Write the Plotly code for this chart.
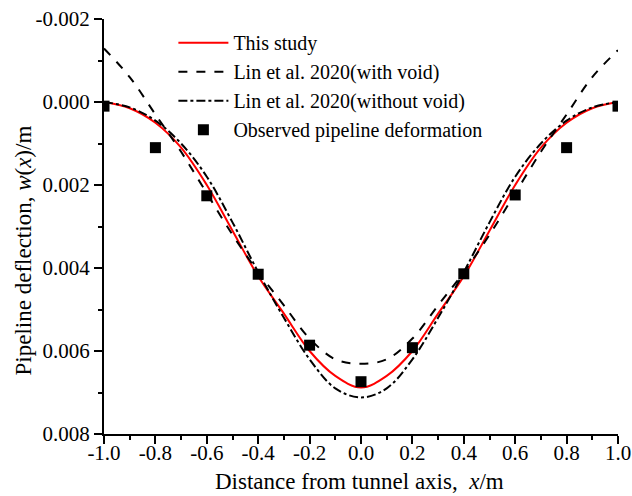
import plotly.graph_objects as go

# ---- data ----
x_curve = [-1.0, -0.9, -0.8, -0.7, -0.6, -0.5, -0.4, -0.3, -0.2, -0.1, 0.0,
           0.1, 0.2, 0.3, 0.4, 0.5, 0.6, 0.7, 0.8, 0.9, 1.0]
this_study = [0.0, 0.00015, 0.0005, 0.0011, 0.0020, 0.0031, 0.0042, 0.0051, 0.0060, 0.0066, 0.00688,
              0.0066, 0.0060, 0.0051, 0.0042, 0.0031, 0.0020, 0.0011, 0.0005, 0.00015, 0.0]
lin_with_void = [-0.00129, -0.0006, 0.0003, 0.0012, 0.0022, 0.0032, 0.0041, 0.0049, 0.0057, 0.0062, 0.00631,
                 0.0062, 0.0057, 0.0049, 0.0041, 0.0032, 0.0022, 0.0012, 0.0003, -0.0006, -0.00125]
lin_without_void = [0.0, 0.00013, 0.00045, 0.0010, 0.0018, 0.0029, 0.0041, 0.0052, 0.0062, 0.0069, 0.00712,
                    0.0069, 0.0062, 0.0052, 0.0041, 0.0029, 0.0018, 0.0010, 0.00045, 0.00013, 0.0]

x_obs = [-1.0, -0.8, -0.6, -0.4, -0.2, 0.0, 0.2, 0.4, 0.6, 0.8, 1.0]
observed = [0.0001, 0.0011, 0.00226, 0.00415, 0.00586, 0.00674, 0.00592, 0.00414, 0.00224, 0.0011, 0.0001]

x_tickvals = [-1.0, -0.8, -0.6, -0.4, -0.2, 0.0, 0.2, 0.4, 0.6, 0.8, 1.0]
x_ticktext = ["-1.0", "-0.8", "-0.6", "-0.4", "-0.2", "0.0", "0.2", "0.4", "0.6", "0.8", "1.0"]
y_tickvals = [-0.002, 0.0, 0.002, 0.004, 0.006, 0.008]
y_ticktext = ["-0.002", "0.000", "0.002", "0.004", "0.006", "0.008"]

FONT = "Liberation Serif, Times New Roman, serif"

fig = go.Figure()
fig.add_trace(go.Scatter(x=x_curve, y=this_study, mode="lines", name="This study",
                         line=dict(color="#ff0000", width=2, shape="spline")))
fig.add_trace(go.Scatter(x=x_curve, y=lin_with_void, mode="lines", name="Lin et al. 2020(with void)",
                         line=dict(color="black", width=2, dash="dash", shape="spline")))
fig.add_trace(go.Scatter(x=x_curve, y=lin_without_void, mode="lines", name="Lin et al. 2020(without void)",
                         line=dict(color="black", width=2, dash="dashdot", shape="spline")))
fig.add_trace(go.Scatter(x=x_obs, y=observed, mode="markers", name="Observed pipeline deformation",
                         marker=dict(symbol="square", color="black", size=11)))

fig.update_layout(
    template="none",
    width=632, height=496,
    margin=dict(l=104, r=14, t=19, b=62, autoexpand=False),
    paper_bgcolor="white", plot_bgcolor="white",
    font=dict(family=FONT, size=21, color="black"),
    showlegend=True,
    legend=dict(x=0.135, y=0.99, xanchor="left", yanchor="top",
                bgcolor="rgba(0,0,0,0)", font=dict(family=FONT, size=20),
                tracegroupgap=0, itemwidth=50),
    xaxis=dict(range=[-1.0, 1.0], tickmode="array", tickvals=x_tickvals, ticktext=x_ticktext,
               automargin=False, ticklabelstandoff=-9,
               showgrid=False, zeroline=False, showline=True, linecolor="black", linewidth=2,
               ticks="outside", ticklen=8, tickwidth=2, tickcolor="black",
               minor=dict(dtick=0.1, tick0=0, ticks="outside", ticklen=4, tickwidth=2, tickcolor="black",
                          showgrid=False)),
    yaxis=dict(range=[0.008, -0.002], tickmode="array", tickvals=y_tickvals, ticktext=y_ticktext,
               automargin=False,
               showgrid=False, zeroline=False, showline=True, linecolor="black", linewidth=2,
               ticks="outside", ticklen=8, tickwidth=2, tickcolor="black",
               minor=dict(dtick=0.001, tick0=0, ticks="outside", ticklen=4, tickwidth=2, tickcolor="black",
                          showgrid=False)),
    annotations=[
        dict(text="Pipeline deflection, <i>w</i>(<i>x</i>)/m", textangle=-90,
             xref="paper", yref="paper", x=-0.157, y=0.443,
             xanchor="center", yanchor="middle", showarrow=False,
             font=dict(family=FONT, size=23, color="black")),
        dict(text="Distance from tunnel axis,  <i>x</i>/m",
             xref="paper", yref="paper", x=0.497, y=-0.114,
             xanchor="center", yanchor="middle", showarrow=False,
             font=dict(family=FONT, size=23, color="black")),
    ],
)

fig.write_html("out.html",
               post_script="document.body.style.margin='0';document.body.style.padding='0';"
                           "document.documentElement.style.overflow='hidden';")
